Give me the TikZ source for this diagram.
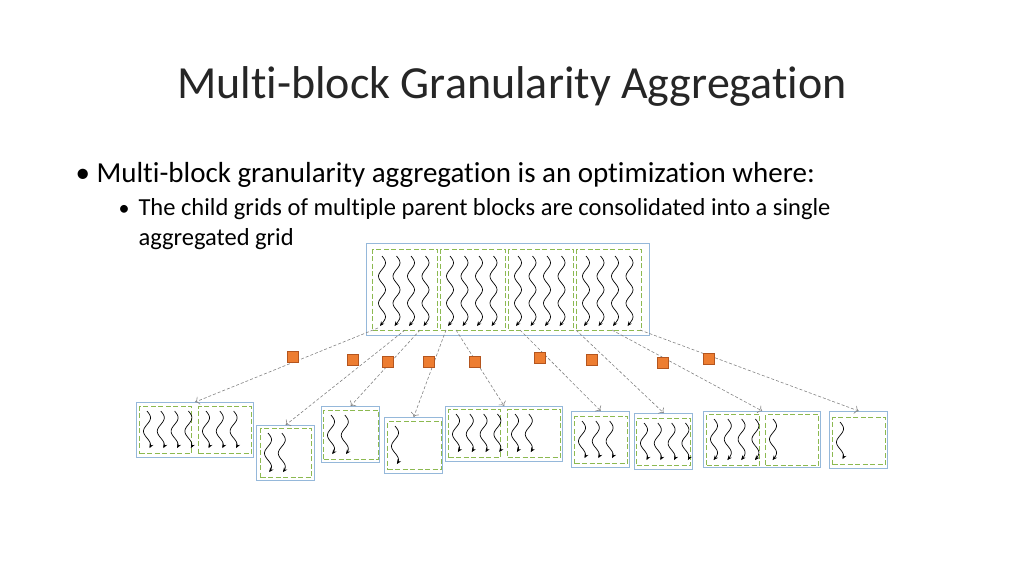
\documentclass[tikz,border=0pt]{standalone}
\usepackage{fontspec}
\setmainfont{Carlito}[RawFeature={-liga}]
\usetikzlibrary{arrows.meta}
\definecolor{bluebox}{RGB}{149,184,218}
\definecolor{greenbox}{RGB}{140,185,80}
\definecolor{orangesq}{RGB}{237,125,49}
\definecolor{orangeedge}{RGB}{180,85,30}
\definecolor{conn}{RGB}{130,130,130}
\newcommand\squig[3]{\draw[line width=0.7pt,-{Stealth[length=4.5pt,width=4pt]}] plot[domain=0:#3,samples=40,smooth] ({#1+3.5*sin(\x/27*360)},{#2+\x});}
\tikzset{
  outer/.style={draw=bluebox,line width=1.4pt,inner sep=0pt,anchor=north west},
  inner/.style={draw=greenbox,dashed,dash pattern=on 5pt off 2.5pt,line width=1.1pt,inner sep=0pt,anchor=north west},
  sq/.style={draw=orangeedge,fill=orangesq,line width=0.6pt,minimum size=11pt,inner sep=0pt},
  link/.style={draw=conn,dashed,dash pattern=on 3pt off 2pt,line width=0.6pt,-{To[length=4pt]}}
}
\begin{document}
\begin{tikzpicture}[x=1pt,y=-1pt]
\useasboundingbox (0,0) rectangle (1024,576);
\node[font=\fontsize{46}{50}\selectfont,text=black!85] (title) at (512,86) {Multi-block Granularity Aggregation};
\node[anchor=base west,font=\fontsize{29}{32}\selectfont] (b1) at (72,182) {\textbullet\ Multi-block granularity aggregation is an optimization where:};
\node[anchor=base west,font=\fontsize{22}{24}\selectfont] (b2b) at (115,215) {\textbullet};
\node[anchor=base west,font=\fontsize{24.5}{26}\selectfont] (b2) at (135,215) {The child grids of multiple parent blocks are consolidated into a single};
\node[anchor=base west,font=\fontsize{24.5}{26}\selectfont] (b3) at (135,245) {aggregated grid};
% top grid
\node[outer,minimum width=283pt,minimum height=92pt] (top) at (366,243) {};
\foreach \bx [count=\k] in {372,440,508,576}{
  \node[inner,minimum width=65pt,minimum height=81pt] (tb\k) at (\bx,249) {};
  \foreach \j in {0,1,2,3}{ \squig{\bx+10+\j*14.5}{256}{70} }
}
% bottom grids
\node[outer,minimum width=117pt,minimum height=55pt] (g1) at (136,402) {};
\node[outer,minimum width=58pt,minimum height=55pt] (g2) at (256,425) {};
\node[outer,minimum width=58pt,minimum height=56pt] (g3) at (321,406) {};
\node[outer,minimum width=58pt,minimum height=56pt] (g4) at (384,417) {};
\node[outer,minimum width=117pt,minimum height=55pt] (g5) at (445,406) {};
\node[outer,minimum width=58pt,minimum height=56pt] (g6) at (571,411) {};
\node[outer,minimum width=58pt,minimum height=56pt] (g7) at (634,413) {};
\node[outer,minimum width=117pt,minimum height=56pt] (g8) at (703,411) {};
\node[outer,minimum width=58pt,minimum height=57pt] (g9) at (829,411) {};
% inner blocks: x y w h nsquig
\foreach \ix/\iy/\iw/\ih/\n [count=\k] in {139/406/52/47/4, 198/406/53/47/3, 260/428/51/49/2, 323/410/55/49/2, 387/421/54/48/1, 448/409/52/48/4, 507/409/53/48/2, 574/416/53/47/3, 636/418/54/47/4, 706/414/53/51/4, 765/414/53/51/1, 832/417/53/47/1}{
  \node[inner,minimum width=\iw pt,minimum height=\ih pt] (ib\k) at (\ix,\iy) {};
  \foreach \j in {1,...,\n}{ \squig{\ix+8+(\j-1)*13.8}{\iy+5}{\ih-10} }
}
% connector starts
\coordinate (s1) at (378,328);
\coordinate (s2) at (405,330);
\coordinate (s3) at (420,330);
\coordinate (s4) at (446,330);
\coordinate (s5) at (456,330);
\coordinate (s6) at (520,330);
\coordinate (s7) at (576,330);
\coordinate (s8) at (612,330);
\coordinate (s9) at (640,330);
\foreach \k in {1,...,9}{ \draw[link] (s\k) -- (g\k.north); }
% orange squares
\foreach \qx/\qy [count=\k] in {293/357,353/360,388/362,429/362,475/362,540/358,592/360,663/363,709/359}{
  \node[sq] (q\k) at (\qx,\qy) {};
}
\end{tikzpicture}
\end{document}
